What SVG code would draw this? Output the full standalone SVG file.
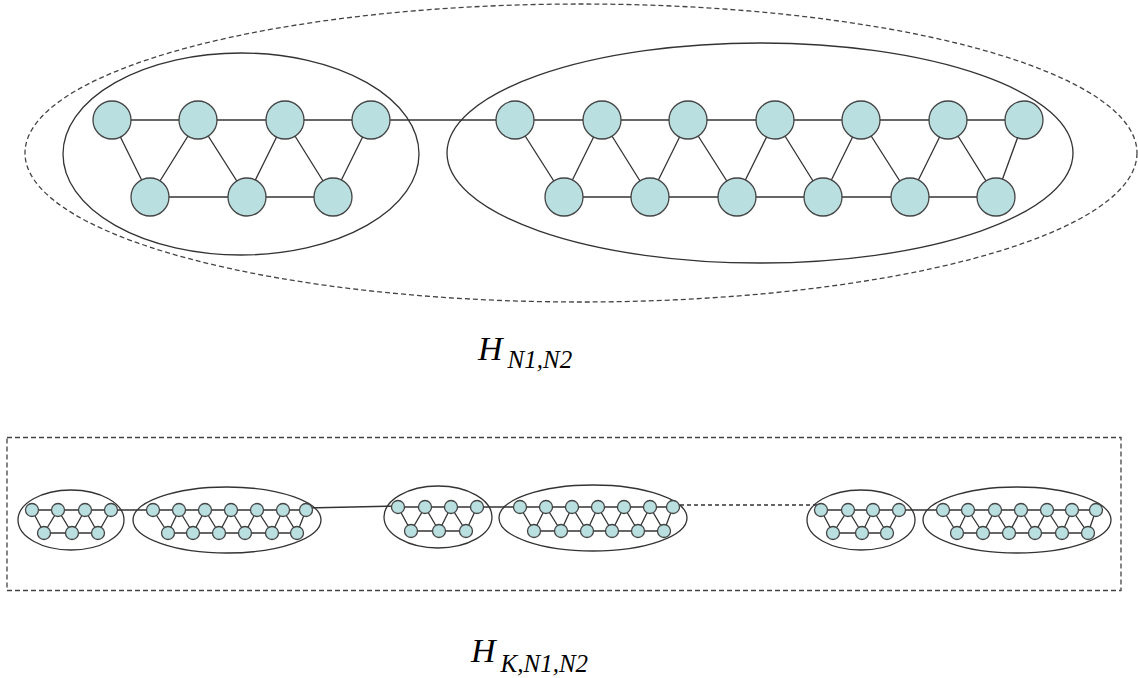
<svg xmlns="http://www.w3.org/2000/svg" width="1138" height="678" viewBox="0 0 1138 678">
<style>
.bg{fill:#fff}
.cl{fill:none;stroke:#333;stroke-width:1.3}
.dash{fill:none;stroke:#444;stroke-width:1.3;stroke-dasharray:5 3}
.e{fill:none;stroke:#333;stroke-width:1.3}
.ed{fill:none;stroke:#333;stroke-width:1.3;stroke-dasharray:4 3}
.n circle{fill:#b9dfe1;stroke:#444;stroke-width:1.3}
.lbl{font-family:"Liberation Serif",serif;font-style:italic;fill:#000}
</style>
<rect class="bg" x="0" y="0" width="1138" height="678"/>
<g id="containers">
<ellipse class="dash" cx="581" cy="153" rx="556" ry="149"/>
<ellipse class="cl" cx="241" cy="154" rx="178" ry="101"/>
<ellipse class="cl" cx="760" cy="153" rx="313" ry="110"/>
<rect class="dash" x="7" y="437.5" width="1114" height="153"/>
<ellipse class="cl" cx="71" cy="520" rx="53" ry="30"/>
<ellipse class="cl" cx="227" cy="520" rx="94" ry="33"/>
<ellipse class="cl" cx="438" cy="517" rx="54" ry="31"/>
<ellipse class="cl" cx="593" cy="518" rx="94" ry="33"/>
<ellipse class="cl" cx="861" cy="520" rx="54" ry="30"/>
<ellipse class="cl" cx="1017" cy="520" rx="94" ry="33"/>
</g>
<g id="connectors">
<polyline class="e" points="112,120 1024,120"/>
<line class="e" x1="150" y1="197" x2="333" y2="197"/>
<line class="e" x1="564" y1="197" x2="996" y2="197"/>
<polyline class="e" points="112,120 150,197 198,120 247,197 285,120 333,197 371,120"/>
<polyline class="e" points="515,120 564,197 602,120 650,197 688,120 737,197 775,120 823,197 861,120 910,197 948,120 996,197 1024,120"/>
<polyline class="e" points="32,510 306,510"/>
<line class="e" x1="44" y1="533" x2="98" y2="533"/>
<polyline class="e" points="32,510 44,533 58,510 72,533 85,510 98,533 111,510"/>
<line class="e" x1="168" y1="533" x2="297" y2="533"/>
<polyline class="e" points="153,510 168,533 179,510 193,533 205,510 219,533 231,510 245,533 257,510 272,533 283,510 297,533 306,510"/>
<line class="e" x1="306" y1="508" x2="398" y2="506"/>
<polyline class="e" points="398,507 673,507"/>
<line class="e" x1="411" y1="531" x2="466" y2="531"/>
<polyline class="e" points="398,507 411,531 425,507 439,531 451,507 466,531 477,507"/>
<line class="e" x1="534" y1="531" x2="664" y2="531"/>
<polyline class="e" points="520,507 534,531 546,507 561,531 572,507 587,531 598,507 612,531 624,507 638,531 650,507 664,531 673,507"/>
<line class="ed" x1="673" y1="505" x2="821" y2="505"/>
<polyline class="e" points="821,510 1096,510"/>
<line class="e" x1="833" y1="533" x2="887" y2="533"/>
<polyline class="e" points="821,510 833,533 848,510 862,533 873,510 887,533 899,510"/>
<line class="e" x1="957" y1="533" x2="1088" y2="533"/>
<polyline class="e" points="943,510 957,533 968,510 983,533 995,510 1009,533 1021,510 1035,533 1047,510 1062,533 1072,510 1088,533 1096,510"/>
</g>
<g id="L-t1" class="n"><circle cx="112" cy="120" r="19"/></g>
<g id="L-t2" class="n"><circle cx="198" cy="120" r="19"/></g>
<g id="L-t3" class="n"><circle cx="285" cy="120" r="19"/></g>
<g id="L-t4" class="n"><circle cx="371" cy="120" r="19"/></g>
<g id="L-b1" class="n"><circle cx="150" cy="197" r="19"/></g>
<g id="L-b2" class="n"><circle cx="247" cy="197" r="19"/></g>
<g id="L-b3" class="n"><circle cx="333" cy="197" r="19"/></g>
<g id="R-t1" class="n"><circle cx="515" cy="120" r="19"/></g>
<g id="R-t2" class="n"><circle cx="602" cy="120" r="19"/></g>
<g id="R-t3" class="n"><circle cx="688" cy="120" r="19"/></g>
<g id="R-t4" class="n"><circle cx="775" cy="120" r="19"/></g>
<g id="R-t5" class="n"><circle cx="861" cy="120" r="19"/></g>
<g id="R-t6" class="n"><circle cx="948" cy="120" r="19"/></g>
<g id="R-t7" class="n"><circle cx="1024" cy="120" r="19"/></g>
<g id="R-b1" class="n"><circle cx="564" cy="197" r="19"/></g>
<g id="R-b2" class="n"><circle cx="650" cy="197" r="19"/></g>
<g id="R-b3" class="n"><circle cx="737" cy="197" r="19"/></g>
<g id="R-b4" class="n"><circle cx="823" cy="197" r="19"/></g>
<g id="R-b5" class="n"><circle cx="910" cy="197" r="19"/></g>
<g id="R-b6" class="n"><circle cx="996" cy="197" r="19"/></g>
<g id="A-t1" class="n"><circle cx="32" cy="510" r="6.5"/></g>
<g id="A-t2" class="n"><circle cx="58" cy="510" r="6.5"/></g>
<g id="A-t3" class="n"><circle cx="85" cy="510" r="6.5"/></g>
<g id="A-t4" class="n"><circle cx="111" cy="510" r="6.5"/></g>
<g id="A-b1" class="n"><circle cx="44" cy="533" r="6.5"/></g>
<g id="A-b2" class="n"><circle cx="72" cy="533" r="6.5"/></g>
<g id="A-b3" class="n"><circle cx="98" cy="533" r="6.5"/></g>
<g id="B-t1" class="n"><circle cx="153" cy="510" r="6.5"/></g>
<g id="B-t2" class="n"><circle cx="179" cy="510" r="6.5"/></g>
<g id="B-t3" class="n"><circle cx="205" cy="510" r="6.5"/></g>
<g id="B-t4" class="n"><circle cx="231" cy="510" r="6.5"/></g>
<g id="B-t5" class="n"><circle cx="257" cy="510" r="6.5"/></g>
<g id="B-t6" class="n"><circle cx="283" cy="510" r="6.5"/></g>
<g id="B-t7" class="n"><circle cx="306" cy="510" r="6.5"/></g>
<g id="B-b1" class="n"><circle cx="168" cy="533" r="6.5"/></g>
<g id="B-b2" class="n"><circle cx="193" cy="533" r="6.5"/></g>
<g id="B-b3" class="n"><circle cx="219" cy="533" r="6.5"/></g>
<g id="B-b4" class="n"><circle cx="245" cy="533" r="6.5"/></g>
<g id="B-b5" class="n"><circle cx="272" cy="533" r="6.5"/></g>
<g id="B-b6" class="n"><circle cx="297" cy="533" r="6.5"/></g>
<g id="C-t1" class="n"><circle cx="398" cy="507" r="6.5"/></g>
<g id="C-t2" class="n"><circle cx="425" cy="507" r="6.5"/></g>
<g id="C-t3" class="n"><circle cx="451" cy="507" r="6.5"/></g>
<g id="C-t4" class="n"><circle cx="477" cy="507" r="6.5"/></g>
<g id="C-b1" class="n"><circle cx="411" cy="531" r="6.5"/></g>
<g id="C-b2" class="n"><circle cx="439" cy="531" r="6.5"/></g>
<g id="C-b3" class="n"><circle cx="466" cy="531" r="6.5"/></g>
<g id="D-t1" class="n"><circle cx="520" cy="507" r="6.5"/></g>
<g id="D-t2" class="n"><circle cx="546" cy="507" r="6.5"/></g>
<g id="D-t3" class="n"><circle cx="572" cy="507" r="6.5"/></g>
<g id="D-t4" class="n"><circle cx="598" cy="507" r="6.5"/></g>
<g id="D-t5" class="n"><circle cx="624" cy="507" r="6.5"/></g>
<g id="D-t6" class="n"><circle cx="650" cy="507" r="6.5"/></g>
<g id="D-t7" class="n"><circle cx="673" cy="507" r="6.5"/></g>
<g id="D-b1" class="n"><circle cx="534" cy="531" r="6.5"/></g>
<g id="D-b2" class="n"><circle cx="561" cy="531" r="6.5"/></g>
<g id="D-b3" class="n"><circle cx="587" cy="531" r="6.5"/></g>
<g id="D-b4" class="n"><circle cx="612" cy="531" r="6.5"/></g>
<g id="D-b5" class="n"><circle cx="638" cy="531" r="6.5"/></g>
<g id="D-b6" class="n"><circle cx="664" cy="531" r="6.5"/></g>
<g id="E-t1" class="n"><circle cx="821" cy="510" r="6.5"/></g>
<g id="E-t2" class="n"><circle cx="848" cy="510" r="6.5"/></g>
<g id="E-t3" class="n"><circle cx="873" cy="510" r="6.5"/></g>
<g id="E-t4" class="n"><circle cx="899" cy="510" r="6.5"/></g>
<g id="E-b1" class="n"><circle cx="833" cy="533" r="6.5"/></g>
<g id="E-b2" class="n"><circle cx="862" cy="533" r="6.5"/></g>
<g id="E-b3" class="n"><circle cx="887" cy="533" r="6.5"/></g>
<g id="F-t1" class="n"><circle cx="943" cy="510" r="6.5"/></g>
<g id="F-t2" class="n"><circle cx="968" cy="510" r="6.5"/></g>
<g id="F-t3" class="n"><circle cx="995" cy="510" r="6.5"/></g>
<g id="F-t4" class="n"><circle cx="1021" cy="510" r="6.5"/></g>
<g id="F-t5" class="n"><circle cx="1047" cy="510" r="6.5"/></g>
<g id="F-t6" class="n"><circle cx="1072" cy="510" r="6.5"/></g>
<g id="F-t7" class="n"><circle cx="1096" cy="510" r="6.5"/></g>
<g id="F-b1" class="n"><circle cx="957" cy="533" r="6.5"/></g>
<g id="F-b2" class="n"><circle cx="983" cy="533" r="6.5"/></g>
<g id="F-b3" class="n"><circle cx="1009" cy="533" r="6.5"/></g>
<g id="F-b4" class="n"><circle cx="1035" cy="533" r="6.5"/></g>
<g id="F-b5" class="n"><circle cx="1062" cy="533" r="6.5"/></g>
<g id="F-b6" class="n"><circle cx="1088" cy="533" r="6.5"/></g>
<g id="labels">
<text class="lbl" x="478" y="360" font-size="34">H<tspan font-size="25" dx="5" dy="8">N1,N2</tspan></text>
<text class="lbl" x="471" y="662" font-size="34">H<tspan font-size="25" dx="5" dy="10">K,N1,N2</tspan></text>
</g>
</svg>
